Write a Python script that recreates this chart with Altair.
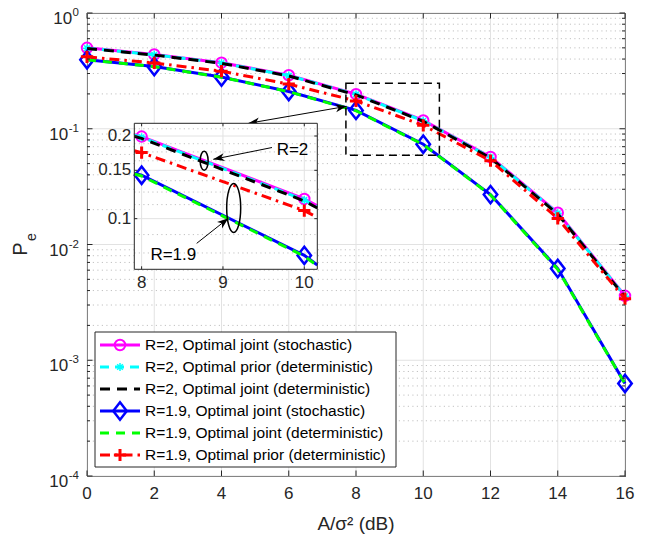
import math
import altair as alt
import pandas as pd

FONT = "Liberation Sans, Arial, Helvetica, sans-serif"
AX = "#262626"

# ---------------- data ----------------
snr_db = [0, 2, 4, 6, 8, 10, 12, 14, 16]
pe_r2_joint_stoch = [0.500, 0.438, 0.372, 0.290, 0.199, 0.118, 0.0570, 0.0188, 0.00360]
pe_r2_prior_det = [0.497, 0.436, 0.370, 0.288, 0.198, 0.117, 0.0565, 0.0186, 0.00357]
pe_r2_joint_det = [0.494, 0.433, 0.367, 0.286, 0.196, 0.116, 0.0558, 0.0183, 0.00352]
pe_r19_joint_stoch = [0.395, 0.345, 0.280, 0.210, 0.144, 0.0735, 0.0270, 0.0062, 0.00063]
pe_r19_joint_det = [0.394, 0.344, 0.279, 0.209, 0.143, 0.0730, 0.0268, 0.0061, 0.000625]
pe_r19_prior_det = [0.418, 0.370, 0.314, 0.243, 0.174, 0.107, 0.0530, 0.0168, 0.00340]

series_labels = [
    "R=2, Optimal joint (stochastic)",
    "R=2, Optimal prior (deterministic)",
    "R=2, Optimal joint (deterministic)",
    "R=1.9, Optimal joint (stochastic)",
    "R=1.9, Optimal joint (deterministic)",
    "R=1.9, Optimal prior (deterministic)",
]
series_values = [pe_r2_joint_stoch, pe_r2_prior_det, pe_r2_joint_det,
                 pe_r19_joint_stoch, pe_r19_joint_det, pe_r19_prior_det]

x_ticks = [0, 2, 4, 6, 8, 10, 12, 14, 16]
x_tick_labels = ["0", "2", "4", "6", "8", "10", "12", "14", "16"]
x_title = "A/σ² (dB)"
y_major_ticks = [1, 0.1, 0.01, 0.001, 0.0001]
y_major_exp = ["0", "-1", "-2", "-3", "-4"]
y_minor_ticks = [m * 10.0 ** k for k in (-4, -3, -2, -1) for m in range(2, 10)]

inset_x_domain = [7.91, 10.16]
inset_y_domain = [0.0654, 0.2225]
inset_x_ticks = [8, 9, 10]
inset_x_tick_labels = ["8", "9", "10"]
inset_y_ticks = [0.1, 0.15, 0.2]
inset_y_tick_labels = ["0.1", "0.15", "0.2"]
inset_y_minor = [0.075, 0.0875, 0.1125, 0.125, 0.1375, 0.1625, 0.175, 0.1875, 0.2125]

zoom_box_x = [7.70, 10.48]
zoom_box_y = [0.0589, 0.247]
link_arrow_x = [4.80, 7.72]
link_arrow_y = [0.1114, 0.1563]

r2_text = "R=2"
r2_text_xy = [9.855, 0.1779]
r2_arrow_x = [9.603, 8.881]
r2_arrow_y = [0.1816, 0.1645]
r2_ellipse_xy = [8.769, 0.1624]
r19_text = "R=1.9"
r19_text_xy = [8.390, 0.0737]
r19_arrow_x = [8.677, 9.066]
r19_arrow_y = [0.0813, 0.1003]
r19_ellipse_xy = [9.132, 0.1094]

# ---------------- layout ----------------
W, H = 538, 463
PAD = {"left": 87, "top": 13, "right": 29, "bottom": 64}
IL, IR, IT, IB = 47.3, 230.3, 110.3, 256.3   # inset box inside plot area (px)

ASTERISK = "M-1,0L1,0M0,-1L0,1M-0.7,-0.7L0.7,0.7M-0.7,0.7L0.7,-0.7"
PLUS = "M-1,0L1,0M0,-1L0,1"
DIAMOND = "M0,-1L0.78,0L0,1L-0.78,0Z"
ARROW = "M0,0L-1,-0.36L-0.72,0L-1,0.36Z"


def ellipse_path(a):
    k = 0.5523
    return (f"M0,-1C{a*k:.4f},-1,{a:.4f},-{k},{a:.4f},0"
            f"C{a:.4f},{k},{a*k:.4f},1,0,1"
            f"C{-a*k:.4f},1,{-a:.4f},{k},{-a:.4f},0"
            f"C{-a:.4f},-{k},{-a*k:.4f},-1,0,-1Z")


styles = [
    dict(color="#ff00ff", dash=None, shape="circle", size=110, msw=2),
    dict(color="#00ffff", dash=[9, 6], shape=ASTERISK, size=64, msw=1.5),
    dict(color="#000000", dash=[10, 7], shape=None),
    dict(color="#0000ff", dash=None, shape=DIAMOND, size=300, msw=2.5),
    dict(color="#00ff00", dash=[9, 7], shape=None),
    dict(color="#ff0000", dash=[10, 5, 2.5, 5], shape=PLUS, size=150, msw=3),
]

xs = alt.Scale(domain=[0, 16], nice=False, zero=False)
ys = alt.Scale(type="log", domain=[1e-4, 1], nice=False)
xsi = alt.Scale(domain=inset_x_domain, range=[IL, IR], nice=False, zero=False)
ysi = alt.Scale(type="log", domain=inset_y_domain, range=[IB, IT], nice=False)


def X(f, s):
    return alt.X(f, scale=s, axis=None)


def Y(f, s):
    return alt.Y(f, scale=s, axis=None)


def main_px(x, y):
    return (x / 16 * W, -math.log10(y) / 4 * H)


def inset_px(x, y):
    lx = (x - inset_x_domain[0]) / (inset_x_domain[1] - inset_x_domain[0])
    l0, l1 = math.log10(inset_y_domain[0]), math.log10(inset_y_domain[1])
    ly = (math.log10(y) - l0) / (l1 - l0)
    return (IL + lx * (IR - IL), IB - ly * (IB - IT))


def heading(p0, p1):
    return math.degrees(math.atan2(p1[1] - p0[1], p1[0] - p0[0])) % 360


def clip_log_line(xv, yv, lo, hi):
    """Clip a polyline (log y) to the x-range [lo, hi] of the inset axes."""
    out = []
    for i in range(len(xv) - 1):
        xa, xb, ya, yb = xv[i], xv[i + 1], yv[i], yv[i + 1]
        if xb < lo or xa > hi:
            continue
        la, lb = math.log10(ya), math.log10(yb)

        def at(x):
            return 10 ** (la + (lb - la) * (x - xa) / (xb - xa))
        sa, sb = max(xa, lo), min(xb, hi)
        for x, y in ((sa, ya if sa == xa else at(sa)), (sb, yb if sb == xb else at(sb))):
            if not out or out[-1][0] != x:
                out.append((x, y))
    return pd.DataFrame(out, columns=["x", "y"])


one = pd.DataFrame({"a": [0]})
GRID = "#e2e2e2"
MINOR = "#c2c2c2"

# ---------------- main axes ----------------
main = []
main.append(alt.Chart(pd.DataFrame({"v": x_ticks})).mark_rule(color=GRID, strokeWidth=1)
            .encode(x=X("v:Q", xs)))
main.append(alt.Chart(pd.DataFrame({"v": y_major_ticks})).mark_rule(color=GRID, strokeWidth=1)
            .encode(y=Y("v:Q", ys)))
main.append(alt.Chart(pd.DataFrame({"v": y_minor_ticks}))
            .mark_rule(color=MINOR, strokeWidth=1, strokeDash=[1.2, 3.3])
            .encode(y=Y("v:Q", ys)))


def line_layers(df, st, xscale, yscale, pts=None):
    kw = dict(color=st["color"], strokeWidth=3)
    if st["dash"]:
        kw["strokeDash"] = st["dash"]
    out = [alt.Chart(df).mark_line(**kw).encode(x=X("x:Q", xscale), y=Y("y:Q", yscale))]
    if st["shape"]:
        p = df if pts is None else pts
        out.append(alt.Chart(p).mark_point(shape=st["shape"], filled=False, color=st["color"],
                                           size=st["size"], strokeWidth=st["msw"], opacity=1)
                   .encode(x=X("x:Q", xscale), y=Y("y:Q", yscale)))
    return out


for vals, st in zip(series_values, styles):
    main += line_layers(pd.DataFrame({"x": snr_db, "y": vals}), st, xs, ys)

# inward ticks
tick_x = pd.DataFrame({"v": x_ticks, "t": x_tick_labels})
main.append(alt.Chart(tick_x).mark_rule(color=AX).encode(
    x=X("v:Q", xs), y=alt.value(H), y2=alt.value(H - 5.5)))
main.append(alt.Chart(tick_x).mark_rule(color=AX).encode(
    x=X("v:Q", xs), y=alt.value(0), y2=alt.value(5.5)))
for vals, ln in ((y_major_ticks, 5.5), (y_minor_ticks, 3)):
    d = pd.DataFrame({"v": vals})
    main.append(alt.Chart(d).mark_rule(color=AX).encode(
        y=Y("v:Q", ys), x=alt.value(0), x2=alt.value(ln)))
    main.append(alt.Chart(d).mark_rule(color=AX).encode(
        y=Y("v:Q", ys), x=alt.value(W - ln), x2=alt.value(W)))

# x tick labels and title
main.append(alt.Chart(tick_x).mark_text(fontSize=17, font=FONT, color=AX, align="center",
                                        baseline="top").encode(
    x=X("v:Q", xs), y=alt.value(H + 9.5), text="t:N"))
main.append(alt.Chart(one).mark_text(text=x_title, fontSize=19, font=FONT, color=AX,
                                     align="center", baseline="middle")
            .encode(x=alt.value(W / 2), y=alt.value(H + 48)))

# y tick labels 10^k
for v, e in zip(y_major_ticks, y_major_exp):
    ew = sum(0.333 if c == "-" else 0.556 for c in e) * 11.5
    d = pd.DataFrame({"v": [v]})
    main.append(alt.Chart(d).mark_text(text=e, fontSize=11.5, font=FONT, color=AX, align="right",
                                       baseline="middle", dy=0).encode(
        y=Y("v:Q", ys), x=alt.value(-8)))
    main.append(alt.Chart(d).mark_text(text="10", fontSize=17, font=FONT, color=AX, align="right",
                                       baseline="middle", dy=6).encode(
        y=Y("v:Q", ys), x=alt.value(-8 - ew - 0.5)))

# y axis title P_e
main.append(alt.Chart(one).mark_text(text="P", fontSize=20, font=FONT, color=AX, angle=270,
                                     align="center", baseline="middle")
            .encode(x=alt.value(-66), y=alt.value(236)))
main.append(alt.Chart(one).mark_text(text="e", fontSize=14, font=FONT, color=AX, angle=270,
                                     align="center", baseline="middle")
            .encode(x=alt.value(-55), y=alt.value(224)))

# zoom box and link arrow
main.append(alt.Chart(pd.DataFrame({"x1": [zoom_box_x[0]], "x2": [zoom_box_x[1]],
                                    "y1": [zoom_box_y[0]], "y2": [zoom_box_y[1]]}))
            .mark_rect(fillOpacity=0, stroke="black", strokeWidth=1.5, strokeDash=[8, 5])
            .encode(x=X("x1:Q", xs), x2="x2:Q", y=Y("y1:Q", ys), y2="y2:Q"))
main.append(alt.Chart(pd.DataFrame({"x1": [link_arrow_x[0]], "x2": [link_arrow_x[1]],
                                    "y1": [link_arrow_y[0]], "y2": [link_arrow_y[1]]}))
            .mark_rule(color="black", strokeWidth=1)
            .encode(x=X("x1:Q", xs), x2="x2:Q", y=Y("y1:Q", ys), y2="y2:Q"))
pa = main_px(link_arrow_x[0], link_arrow_y[0])
pb = main_px(link_arrow_x[1], link_arrow_y[1])
for (xv, yv), ang in (((link_arrow_x[1], link_arrow_y[1]), heading(pa, pb)),
                      ((link_arrow_x[0], link_arrow_y[0]), heading(pb, pa))):
    main.append(alt.Chart(pd.DataFrame({"x": [xv], "y": [yv]}))
                .mark_point(shape=ARROW, filled=True, color="black", size=500, angle=ang, opacity=1)
                .encode(x=X("x:Q", xs), y=Y("y:Q", ys)))

# legend
LX0, LX1, LY0, LY1 = 8, 309, 319, 454
main.append(alt.Chart(one).mark_rect(fill="white", stroke=AX, strokeWidth=1).encode(
    x=alt.value(LX0), x2=alt.value(LX1), y=alt.value(LY0), y2=alt.value(LY1)))
for i, (lab, st) in enumerate(zip(series_labels, styles)):
    ry = 332 + 22 * i
    kw = dict(color=st["color"], strokeWidth=3)
    if st["dash"]:
        kw["strokeDash"] = st["dash"]
    main.append(alt.Chart(one).mark_rule(**kw).encode(
        x=alt.value(13), x2=alt.value(53), y=alt.value(ry)))
    if st["shape"]:
        main.append(alt.Chart(one).mark_point(shape=st["shape"], filled=False, color=st["color"],
                                              size=st["size"], strokeWidth=st["msw"], opacity=1)
                    .encode(x=alt.value(33), y=alt.value(ry)))
    main.append(alt.Chart(one).mark_text(text=lab, fontSize=15.5, font=FONT, color="black",
                                         align="left", baseline="middle")
                .encode(x=alt.value(58), y=alt.value(ry)))

# ---------------- inset ----------------
inset = []
inset.append(alt.Chart(one).mark_rect(fill="white", strokeWidth=0).encode(
    x=alt.value(IL), x2=alt.value(IR), y=alt.value(IT), y2=alt.value(IB)))
ti = pd.DataFrame({"v": inset_x_ticks, "t": inset_x_tick_labels})
tyi = pd.DataFrame({"v": inset_y_ticks, "t": inset_y_tick_labels})
inset.append(alt.Chart(ti).mark_rule(color=GRID)
             .encode(x=X("v:Q", xsi), y=alt.value(IT), y2=alt.value(IB)))
inset.append(alt.Chart(tyi).mark_rule(color=GRID)
             .encode(y=Y("v:Q", ysi), x=alt.value(IL), x2=alt.value(IR)))
inset.append(alt.Chart(pd.DataFrame({"v": inset_y_minor}))
             .mark_rule(color=MINOR, strokeDash=[1.2, 3.3])
             .encode(y=Y("v:Q", ysi), x=alt.value(IL), x2=alt.value(IR)))

for vals, st in zip(series_values, styles):
    seg = clip_log_line(snr_db, vals, inset_x_domain[0], inset_x_domain[1])
    pts = pd.DataFrame({"x": snr_db, "y": vals})
    pts = pts[(pts.x >= inset_x_domain[0]) & (pts.x <= inset_x_domain[1])]
    inset += line_layers(seg, st, xsi, ysi, pts=pts)

inset.append(alt.Chart(one).mark_rect(fillOpacity=0, stroke=AX, strokeWidth=1).encode(
    x=alt.value(IL), x2=alt.value(IR), y=alt.value(IT), y2=alt.value(IB)))
inset.append(alt.Chart(ti).mark_rule(color=AX).encode(
    x=X("v:Q", xsi), y=alt.value(IB), y2=alt.value(IB - 3)))
inset.append(alt.Chart(ti).mark_rule(color=AX).encode(
    x=X("v:Q", xsi), y=alt.value(IT), y2=alt.value(IT + 3)))
inset.append(alt.Chart(tyi).mark_rule(color=AX).encode(
    y=Y("v:Q", ysi), x=alt.value(IL), x2=alt.value(IL + 3)))
inset.append(alt.Chart(tyi).mark_rule(color=AX).encode(
    y=Y("v:Q", ysi), x=alt.value(IR - 3), x2=alt.value(IR)))
inset.append(alt.Chart(ti).mark_text(fontSize=17, font=FONT, color=AX, align="center",
                                     baseline="top").encode(
    x=X("v:Q", xsi), y=alt.value(IB + 6), text="t:N"))
inset.append(alt.Chart(tyi).mark_text(fontSize=17, font=FONT, color=AX, align="right",
                                      baseline="middle").encode(
    y=Y("v:Q", ysi), x=alt.value(IL - 3), text="t:N"))

# annotations in the inset
for (ex, ey), hgt, wid in ((r2_ellipse_xy, 19, 8), (r19_ellipse_xy, 49, 14)):
    inset.append(alt.Chart(pd.DataFrame({"x": [ex], "y": [ey]}))
                 .mark_point(shape=ellipse_path(wid / hgt), filled=False, color="black",
                             strokeWidth=1.5, size=hgt * hgt, opacity=1)
                 .encode(x=X("x:Q", xsi), y=Y("y:Q", ysi)))
for ax_, ay_ in ((r2_arrow_x, r2_arrow_y), (r19_arrow_x, r19_arrow_y)):
    inset.append(alt.Chart(pd.DataFrame({"x1": [ax_[0]], "x2": [ax_[1]], "y1": [ay_[0]], "y2": [ay_[1]]}))
                 .mark_rule(color="black", strokeWidth=1)
                 .encode(x=X("x1:Q", xsi), x2="x2:Q", y=Y("y1:Q", ysi), y2="y2:Q"))
    ang = heading(inset_px(ax_[0], ay_[0]), inset_px(ax_[1], ay_[1]))
    inset.append(alt.Chart(pd.DataFrame({"x": [ax_[1]], "y": [ay_[1]]}))
                 .mark_point(shape=ARROW, filled=True, color="black", size=500, angle=ang, opacity=1)
                 .encode(x=X("x:Q", xsi), y=Y("y:Q", ysi)))
for txt, (tx, ty) in ((r2_text, r2_text_xy), (r19_text, r19_text_xy)):
    inset.append(alt.Chart(pd.DataFrame({"x": [tx], "y": [ty], "t": [txt]}))
                 .mark_text(fontSize=17, font=FONT, color="black", align="center", baseline="middle")
                 .encode(x=X("x:Q", xsi), y=Y("y:Q", ysi), text="t:N"))

chart = (alt.layer(alt.layer(*main), alt.layer(*inset))
         .resolve_scale(x="independent", y="independent")
         .properties(width=W, height=H, padding=PAD, background="white",
                     autosize=alt.AutoSizeParams(type="none"))
         .configure_view(stroke=AX, strokeWidth=1))

chart.save("out.html", embed_options={"renderer": "svg", "actions": False})
